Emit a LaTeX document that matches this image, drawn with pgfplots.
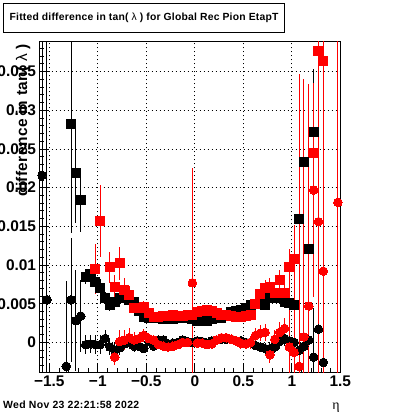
\documentclass[border=0pt]{standalone}
\usepackage{fontspec}
\setmainfont{Liberation Sans}
\newfontfamily\serifeta{Liberation Serif}
\usepackage{pgfplots}
\pgfplotsset{compat=1.18}
\usepackage{pgfplotstable}

% black squares
\pgfplotstableread{
x y e
-1.275 0.0282 0.0141
-1.225 0.0219 0.0065
-1.175 0.0184 0.0041
-1.125 0.0085 0.0010
-1.075 0.0089 0.0010
-1.025 0.0078 0.0010
-0.975 0.0070 0.0012
-0.925 0.0057 0.0008
-0.875 0.0048 0.0008
-0.825 0.0052 0.0008
-0.775 0.0057 0.0007
-0.725 0.0059 0.0007
-0.675 0.0055 0.0006
-0.625 0.0052 0.0006
-0.575 0.0040 0.0005
-0.525 0.0033 0.0005
-0.475 0.0031 0.0005
-0.425 0.0031 0.0004
-0.375 0.0031 0.0004
-0.325 0.0030 0.0004
-0.275 0.0032 0.0004
-0.225 0.0030 0.0004
-0.175 0.0033 0.0004
-0.125 0.0031 0.0004
-0.075 0.0033 0.0004
-0.025 0.0030 0.0004
0.025 0.0027 0.0004
0.075 0.0027 0.0004
0.125 0.0028 0.0004
0.175 0.0030 0.0004
0.225 0.0031 0.0004
0.275 0.0031 0.0004
0.325 0.0036 0.0004
0.375 0.0039 0.0004
0.425 0.0041 0.0004
0.475 0.0042 0.0005
0.525 0.0045 0.0005
0.575 0.0048 0.0005
0.625 0.0050 0.0005
0.675 0.0052 0.0006
0.725 0.0048 0.0006
0.775 0.0057 0.0006
0.825 0.0061 0.0007
0.875 0.0057 0.0007
0.925 0.0052 0.0008
0.975 0.0051 0.0009
1.025 0.0048 0.0010
1.075 0.0160 0.0073
1.125 0.0233 0.0100
1.175 0.0121 0.0060
1.225 0.0272 0.0082
}\bsq

% red squares
\pgfplotstableread{
x y e
-1.025 0.0095 0.0032
-0.975 0.0157 0.0047
-0.875 0.0097 0.0020
-0.825 0.0072 0.0015
-0.775 0.0102 0.0021
-0.725 0.0068 0.0015
-0.675 0.0061 0.0012
-0.625 0.0045 0.0010
-0.575 0.0044 0.0008
-0.525 0.0046 0.0008
-0.475 0.0038 0.0006
-0.425 0.0033 0.0005
-0.375 0.0033 0.0005
-0.325 0.0034 0.0005
-0.275 0.0034 0.0005
-0.225 0.0035 0.0005
-0.175 0.0034 0.0005
-0.125 0.0034 0.0005
-0.075 0.0035 0.0005
-0.025 0.0036 0.0005
0.025 0.0039 0.0005
0.075 0.0041 0.0005
0.125 0.0042 0.0005
0.175 0.0041 0.0005
0.225 0.0038 0.0005
0.275 0.0036 0.0005
0.325 0.0035 0.0005
0.375 0.0034 0.0005
0.425 0.0033 0.0005
0.475 0.0033 0.0006
0.525 0.0034 0.0006
0.575 0.0036 0.0007
0.625 0.0050 0.0008
0.675 0.0063 0.0010
0.725 0.0070 0.0010
0.775 0.0072 0.0011
0.825 0.0064 0.0012
0.875 0.0080 0.0013
0.925 0.0064 0.0015
0.975 0.0097 0.0024
1.025 0.0108 0.0043
1.225 0.0245 0.0090
1.275 0.0377 0.0200
1.325 0.0364 0.0200
}\rsq

% black circles
\pgfplotstableread{
x y e
-1.575 0.0216 0.0500
-1.525 0.0055 0.0500
-1.325 -0.0031 0.0110
-1.275 0.0055 0.0080
-1.225 0.0028 0.0065
-1.175 0.0034 0.0047
-1.125 -0.0003 0.0012
-1.075 -0.0002 0.0012
-1.025 -0.0003 0.0012
-0.975 -0.0003 0.0012
-0.925 0.0005 0.0011
-0.875 -0.0006 0.0010
-0.825 -0.0010 0.0010
-0.775 -0.0007 0.0009
-0.725 -0.0002 0.0008
-0.675 0.0000 0.0008
-0.625 -0.0005 0.0007
-0.575 -0.0005 0.0006
-0.525 -0.0008 0.0006
-0.475 0.0001 0.0005
-0.425 -0.0005 0.0005
-0.375 0.0003 0.0005
-0.325 0.0003 0.0005
-0.275 -0.0002 0.0005
-0.225 -0.0001 0.0005
-0.175 0.0000 0.0005
-0.125 0.0003 0.0005
-0.075 0.0001 0.0005
-0.025 0.0000 0.0005
0.025 0.0002 0.0005
0.075 0.0001 0.0005
0.125 -0.0001 0.0005
0.175 0.0002 0.0005
0.225 0.0003 0.0005
0.275 0.0004 0.0005
0.325 0.0004 0.0005
0.375 0.0004 0.0005
0.425 0.0002 0.0005
0.475 0.0002 0.0005
0.525 0.0000 0.0006
0.575 0.0000 0.0006
0.625 -0.0004 0.0006
0.675 -0.0006 0.0007
0.725 -0.0008 0.0007
0.775 -0.0008 0.0008
0.825 -0.0006 0.0008
0.875 0.0001 0.0009
0.925 0.0005 0.0010
0.975 0.0002 0.0010
1.025 0.0000 0.0011
1.075 -0.0010 0.0012
1.125 -0.0005 0.0013
1.175 0.0003 0.0015
1.225 -0.0019 0.0063
1.275 0.0017 0.0030
1.325 -0.0026 0.0020
}\bci

% red circles
\pgfplotstableread{
x y e
-0.825 -0.0019 0.0010
-0.775 0.0001 0.0015
-0.725 0.0003 0.0013
-0.675 0.0006 0.0012
-0.625 0.0003 0.0010
-0.575 0.0005 0.0009
-0.525 0.0009 0.0008
-0.475 0.0005 0.0007
-0.425 0.0003 0.0007
-0.375 -0.0003 0.0006
-0.325 -0.0005 0.0006
-0.275 -0.0006 0.0006
-0.225 -0.0005 0.0006
-0.175 -0.0003 0.0006
-0.125 0.0000 0.0006
-0.075 0.0000 0.0006
-0.025 0.0077 0.0148
0.025 -0.0001 0.0006
0.075 -0.0001 0.0006
0.125 -0.0003 0.0006
0.175 -0.0002 0.0006
0.225 0.0003 0.0006
0.275 0.0006 0.0006
0.325 0.0006 0.0006
0.375 0.0004 0.0006
0.425 0.0002 0.0006
0.475 -0.0001 0.0007
0.525 -0.0002 0.0007
0.575 0.0000 0.0008
0.625 0.0009 0.0009
0.675 0.0012 0.0010
0.725 0.0013 0.0011
0.775 -0.0016 0.0011
0.825 0.0004 0.0012
0.875 0.0013 0.0013
0.925 0.0018 0.0014
0.975 -0.0006 0.0126
1.025 -0.0013 0.0165
1.075 -0.0031 0.0378
1.125 0.0007 0.0334
1.175 0.0047 0.0287
1.225 0.0197 0.0138
1.275 0.0156 0.0350
1.325 0.0092 0.0400
1.475 0.0181 0.0400
}\rci

\begin{document}
\begin{tikzpicture}[x=1bp,y=1bp]
\path[use as bounding box] (0,0) rectangle (400,414);
\begin{axis}[
  at={(39.6bp,41.7bp)}, anchor=south west,
  scale only axis, width=300.7bp, height=330.6bp,
  xmin=-1.6, xmax=1.5, ymin=-0.00387, ymax=0.03887,
  axis line style={line width=1bp, black},
  tick align=inside, xtick pos=lower, ytick pos=left,
  major tick length=9bp, minor tick length=4.5bp,
  tick style={black, line width=0.8bp},
  scaled ticks=false,
  xtick={-1.5,-1,-0.5,0,0.5,1,1.5},
  xticklabels={−1.5,−1,−0.5,0,0.5,1,1.5},
  minor xtick={-1.6,-1.4,-1.3,-1.2,-1.1,-0.9,-0.8,-0.7,-0.6,-0.4,-0.3,-0.2,-0.1,0.1,0.2,0.3,0.4,0.6,0.7,0.8,0.9,1.1,1.2,1.3,1.4},
  ytick={0,0.005,0.01,0.015,0.02,0.025,0.03,0.035},
  yticklabels={0,0.005,0.01,0.015,0.02,0.025,0.03,0.035},
  minor ytick={-0.003,-0.002,-0.001,0.001,0.002,0.003,0.004,0.006,0.007,0.008,0.009,0.011,0.012,0.013,0.014,0.016,0.017,0.018,0.019,0.021,0.022,0.023,0.024,0.026,0.027,0.028,0.029,0.031,0.032,0.033,0.034,0.036,0.037,0.038},
  ticklabel style={font=\bfseries\fontsize{15.5}{16}\selectfont, black},
  grid=major,
  major grid style={black, line width=0.8bp, dash pattern=on 1bp off 3bp},
]
\addplot[only marks, black, mark=square*, mark size=4.5bp, mark options={line width=0pt},
  error bars/.cd, y dir=both, y explicit, error mark=none, error bar style={black, line width=1bp}]
  table[x=x, y=y, y error=e] {\bsq};
\addplot[only marks, black, mark=*, mark size=4.3bp, mark options={line width=0pt},
  error bars/.cd, y dir=both, y explicit, error mark=none, error bar style={black, line width=1bp}]
  table[x=x, y=y, y error=e] {\bci};
\addplot[only marks, red, mark=square*, mark size=4.5bp, mark options={line width=0pt},
  error bars/.cd, y dir=both, y explicit, error mark=none, error bar style={red, line width=1bp}]
  table[x=x, y=y, y error=e] {\rsq};
\addplot[only marks, red, mark=*, mark size=4.3bp, mark options={line width=0pt},
  error bars/.cd, y dir=both, y explicit, error mark=none, error bar style={red, line width=1bp}]
  table[x=x, y=y, y error=e] {\rci};
\end{axis}
% y axis title
\node[rotate=90, anchor=base east, inner sep=0pt] at (27,370)
  {\bfseries\fontsize{15.5}{16}\selectfont\addfontfeature{LetterSpace=2.5}difference in tan( {\mdseries λ} )};
% title box
\node[draw=black, line width=1bp, fill=white, anchor=north west, minimum width=281bp, minimum height=29bp, inner sep=0pt]
  at (3,411) {\bfseries\fontsize{10.4}{12}\selectfont\addfontfeature{LetterSpace=2}Fitted difference in tan( {\mdseries λ} ) for Global Rec Pion EtapT};
% date
\node[anchor=base west, inner sep=0pt] at (3,5.7)
  {\bfseries\fontsize{10.5}{12}\selectfont\addfontfeature{LetterSpace=3}Wed Nov 23 22:21:58 2022};
% x axis title
\node[anchor=base, inner sep=0pt] at (336,5) {\serifeta\fontsize{14}{14}\selectfont η};
\end{tikzpicture}
\end{document}
